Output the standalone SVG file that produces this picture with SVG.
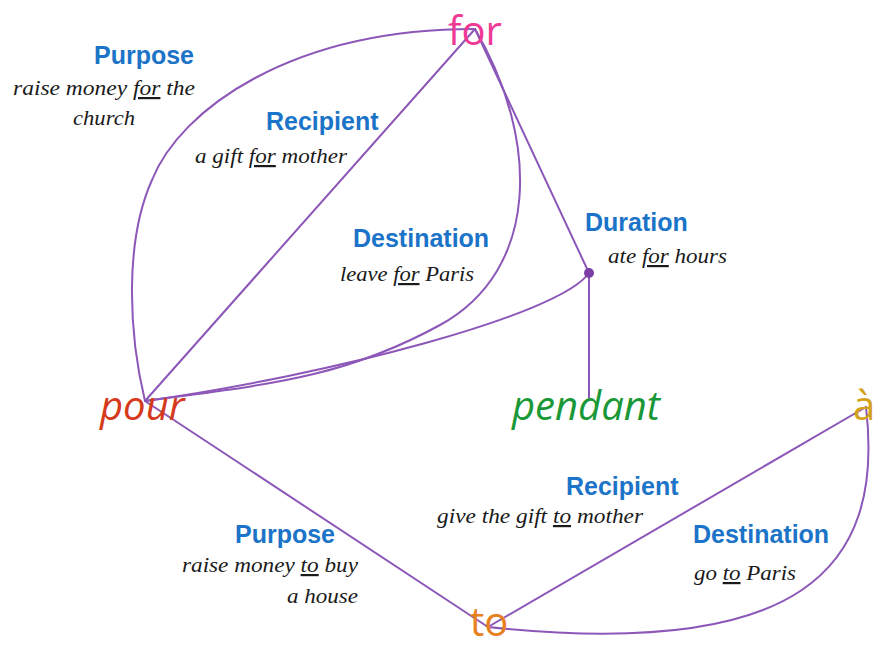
<svg xmlns="http://www.w3.org/2000/svg" width="876" height="646" viewBox="0 0 876 646">
<style>
.e{fill:none;stroke:#8c57b8;stroke-width:2;stroke-linecap:round}
.n{font-family:"Open Sans","Noto Sans",sans-serif;font-size:40px}
.l{font-family:"Liberation Sans",Arial,sans-serif;font-weight:bold;font-size:25px;fill:#1b74c8}
.x{font-family:"Liberation Serif","Times New Roman",serif;font-style:italic;font-size:22px;fill:#1a1a1a}
.u{text-decoration:underline}
</style>
<rect width="876" height="646" fill="#ffffff"/>
<g id="connectors">
<path class="e" d="M145,401 C128,330 125,240 152,180 C180,110 290,29 475,29"/>
<path class="e" d="M145,401 L475,29"/>
<path class="e" d="M475,29 C540,140 540,270 440,325 S260,385 145,401"/>
<path class="e" d="M475,29 L589,273"/>
<path class="e" d="M589,273 C560,315 330,375 145,401"/>
<path class="e" d="M589,273 L589,398"/>
<path class="e" d="M145,401 L488,627"/>
<path class="e" d="M488,627 L866,407"/>
<path class="e" d="M866,407 C885,570 800,660 488,627"/>
<circle cx="589" cy="273" r="5" fill="#7a3ea6"/>
</g>
<g id="node-for"><text class="n" x="448" y="45" fill="#ee3a95">for</text></g>
<g id="node-pour"><text class="n" x="100" y="420" font-style="italic" fill="#d63a1c">pour</text></g>
<g id="node-pendant"><text class="n" x="512" y="420" font-style="italic" fill="#1a9838">pendant</text></g>
<g id="node-a"><text class="n" x="853" y="420" fill="#d4a21a">à</text></g>
<g id="node-to"><text class="n" x="470" y="636" font-size="38" fill="#e8801e">to</text></g>
<g id="label-purpose-for">
<text class="l" x="94" y="64">Purpose</text>
<text class="x" x="13" y="95" textLength="182" lengthAdjust="spacingAndGlyphs">raise money <tspan class="u">for</tspan> the</text>
<text class="x" x="73" y="125" textLength="62" lengthAdjust="spacingAndGlyphs">church</text>
</g>
<g id="label-recipient-for">
<text class="l" x="266" y="130">Recipient</text>
<text class="x" x="195" y="163" textLength="152" lengthAdjust="spacingAndGlyphs">a gift <tspan class="u">for</tspan> mother</text>
</g>
<g id="label-destination-for">
<text class="l" x="353" y="247">Destination</text>
<text class="x" x="340" y="281" textLength="134" lengthAdjust="spacingAndGlyphs">leave <tspan class="u">for</tspan> Paris</text>
</g>
<g id="label-duration-for">
<text class="l" x="585" y="231">Duration</text>
<text class="x" x="608" y="263" textLength="119" lengthAdjust="spacingAndGlyphs">ate <tspan class="u">for</tspan> hours</text>
</g>
<g id="label-purpose-to">
<text class="l" x="235" y="543">Purpose</text>
<text class="x" x="182" y="572" textLength="176" lengthAdjust="spacingAndGlyphs">raise money <tspan class="u">to</tspan> buy</text>
<text class="x" x="287" y="603" textLength="71" lengthAdjust="spacingAndGlyphs">a house</text>
</g>
<g id="label-recipient-to">
<text class="l" x="566" y="495">Recipient</text>
<text class="x" x="437" y="523" textLength="206" lengthAdjust="spacingAndGlyphs">give the gift <tspan class="u">to</tspan> mother</text>
</g>
<g id="label-destination-to">
<text class="l" x="693" y="543">Destination</text>
<text class="x" x="694" y="580" textLength="102" lengthAdjust="spacingAndGlyphs">go <tspan class="u">to</tspan> Paris</text>
</g>
</svg>
